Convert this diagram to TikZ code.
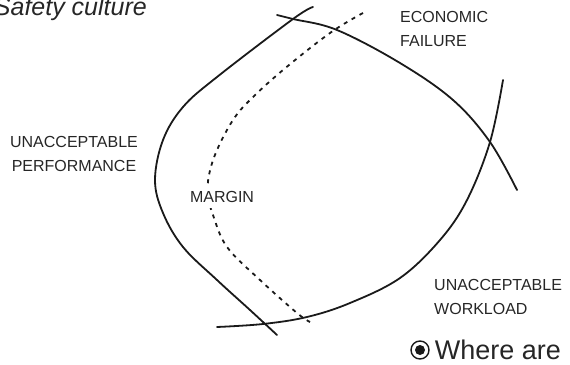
\documentclass[tikz,border=0pt]{standalone}
\usepackage{fontspec}
\setmainfont{Liberation Sans}
\usepackage{tikz}
\usetikzlibrary{positioning}
\definecolor{ink}{HTML}{1A1A1A}
\definecolor{labelgray}{HTML}{262626}
\tikzset{
  boundary/.style={draw=ink, line width=1.8pt, line cap=round},
  marginline/.style={draw=ink, line width=1.8pt, dash pattern=on 4pt off 5pt},
  zonelabel/.style={font=\fontsize{16}{24}\selectfont, text=labelgray,
    align=#1, inner sep=1pt},
  zonelabel/.default=left,
}

\begin{document}
\begin{tikzpicture}[x=1pt, y=-1pt]
  \useasboundingbox (0,0) rectangle (570,364);
  % heading, runs off the top left corner
  \node[anchor=base east, font=\fontsize{25}{30}\selectfont\itshape,
    text=labelgray, inner sep=0pt] (title) at (147,15) {Safety culture};
  % performance boundary (left)
  \draw[boundary] plot[smooth, tension=0.6] coordinates {(313,7) (293,19) (217,77)
    (183,107) (163,140) (155,180) (163,213) (183,247) (217,280) (250,310) (277,335)};
  % economic failure boundary (top)
  \draw[boundary] plot[smooth, tension=0.6] coordinates {(277,15) (293,19) (337,30)
    (400,63) (453,100) (490,142) (517,190)};
  % workload boundary (right and bottom)
  \draw[boundary] plot[smooth, tension=0.6] coordinates {(503,80) (490,142) (467,200)
    (440,240) (400,278) (350,303) (307,317) (263,324) (217,327)};
  % operating margin
  \draw[marginline] plot[smooth, tension=0.6] coordinates {(363,13) (330,33) (283,70)
    (250,100) (233,120) (217,150) (209,175) (208,195) (213,215) (227,247)
    (260,280) (297,313) (310,322)};
  \node[zonelabel, fill=white, inner xsep=2pt, inner ysep=5pt] (margin) at (222,197) {MARGIN};
  % zone labels
  \node[zonelabel, anchor=north west] (econ) at (399,10) {ECONOMIC\\FAILURE};
  \node[zonelabel=center] (perf) at (74,154) {UNACCEPTABLE\\PERFORMANCE};
  \node[zonelabel, anchor=west] (work) at (433,297) {UNACCEPTABLE\\WORKLOAD};
  % bullet line at the bottom
  \node[circle, draw=ink, line width=1.4pt, minimum size=18pt, inner sep=0pt]
    (bullet) at (420,350) {};
  \fill[ink] (bullet.center) circle (5pt);
  \node[right=5pt of bullet, font=\fontsize{27}{32}\selectfont, text=labelgray,
    inner sep=0pt] (where) {Where are};
\end{tikzpicture}
\end{document}
